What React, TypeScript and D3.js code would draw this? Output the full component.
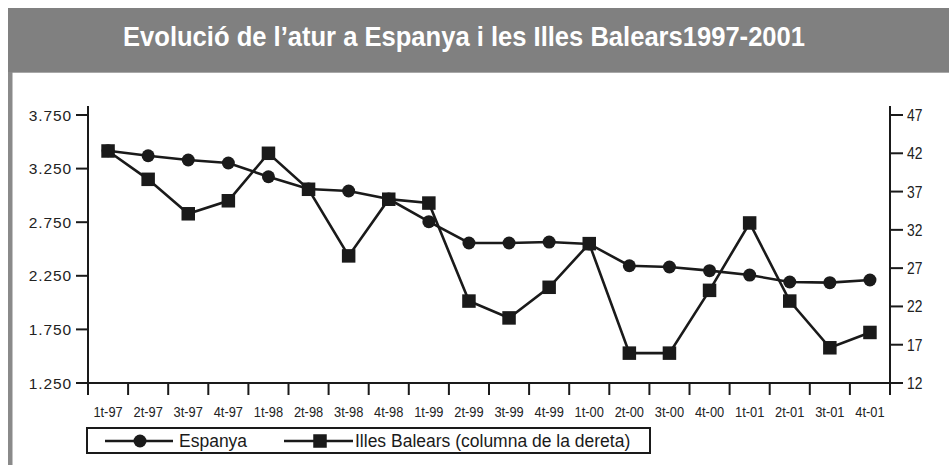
import React from "react";
import * as d3 from "d3";

const categories = ["1t-97","2t-97","3t-97","4t-97","1t-98","2t-98","3t-98","4t-98","1t-99","2t-99","3t-99","4t-99","1t-00","2t-00","3t-00","4t-00","1t-01","2t-01","3t-01","4t-01"];
const espanya = [3417,3370,3330,3302,3174,3060,3041,2966,2755,2556,2556,2565,2547,2344,2332,2298,2257,2192,2186,2211];
const balears = [42.3,38.6,34.1,35.8,42.0,37.3,28.6,36.0,35.5,22.7,20.5,24.5,30.2,15.9,15.9,24.1,32.9,22.7,16.6,18.6];
const leftTicks = [1250,1750,2250,2750,3250,3750];
const rightTicks = [12,17,22,27,32,37,42,47];
const title = "Evolució de l’atur a Espanya i les Illes Balears1997-2001";
const legendLabels = ["Espanya", "Illes Balears (columna de la dereta)"];

const W = 949, H = 465;
const X0 = 88, X1 = 890, YT = 115, YB = 383;
const REG = "'Liberation Sans', Arial, Helvetica, sans-serif";

export default function App() {
  const x = d3.scaleBand<string>().domain(categories).range([X0, X1]).padding(0);
  const yL = d3.scaleLinear().domain([1250, 3750]).range([YB, YT]);
  const yR = d3.scaleLinear().domain([12, 47]).range([YB, YT]);
  const cx = (c: string) => (x(c) as number) + x.bandwidth() / 2;
  const lineL = d3.line<number>().x((_, i) => cx(categories[i])).y((d) => yL(d));
  const lineR = d3.line<number>().x((_, i) => cx(categories[i])).y((d) => yR(d));
  const fmt = (v: number) => d3.format(",")(v).replace(",", ".");
  const boundaries = categories.map((c) => x(c) as number).concat([X1]);
  const sq = 13.5;

  return (
    <svg width={W} height={H} style={{ position: "absolute", left: 0, top: 0, display: "block" }}>
      <rect x={0} y={0} width={W} height={H} fill="#fff" />
      <rect x={8} y={8} width={W - 8} height={64} fill="#808080" />
      <rect x={8} y={72} width={W - 8} height={1} fill="#a8a8a8" />
      <rect x={8} y={72} width={4.5} height={H - 72} fill="#8a8a8a" />
      <text x={123} y={45.5} fill="#fff" fontFamily={REG} fontWeight="bold" fontSize={28}
        textLength={682} lengthAdjust="spacingAndGlyphs">{title}</text>

      {/* axes */}
      <g stroke="#1a1a1a" strokeWidth={2} fill="none">
        <line x1={X0} y1={106} x2={X0} y2={YB} />
        <line x1={X1} y1={106} x2={X1} y2={YB} />
        <line x1={X0} y1={YB} x2={X1} y2={YB} />
        {leftTicks.map((t) => <line key={"l" + t} x1={76} x2={X0} y1={yL(t)} y2={yL(t)} />)}
        {rightTicks.map((t) => <line key={"r" + t} x1={X1} x2={903} y1={yR(t)} y2={yR(t)} />)}
        {boundaries.map((b, i) => <line key={"b" + i} x1={b} x2={b} y1={YB} y2={395} />)}
      </g>
      <g fontFamily={REG} fontSize={15.5} fill="#222" letterSpacing={0.9}>
        {leftTicks.map((t) => (
          <text key={"lt" + t} x={72} y={yL(t)} dy="0.36em" textAnchor="end">{fmt(t)}</text>
        ))}
      </g>
      <g fontFamily={REG} fontSize={16.5} fill="#222">
        {rightTicks.map((t) => (
          <text key={"rt" + t} transform={`translate(907,${yR(t)}) scale(0.84,1)`} dy="0.36em">{t}</text>
        ))}
      </g>
      <g fontFamily={REG} fontSize={15.5} fill="#222">
        {categories.map((c) => (
          <text key={"c" + c} transform={`translate(${cx(c)},417) scale(0.83,1)`} textAnchor="middle">{c}</text>
        ))}
      </g>

      {/* series */}
      <path d={lineL(espanya) as string} fill="none" stroke="#1a1a1a" strokeWidth={2.6} />
      <path d={lineR(balears) as string} fill="none" stroke="#1a1a1a" strokeWidth={2.6} />
      {espanya.map((v, i) => (
        <circle key={"e" + i} cx={cx(categories[i])} cy={yL(v)} r={6.5} fill="#1a1a1a" />
      ))}
      {balears.map((v, i) => (
        <rect key={"s" + i} x={cx(categories[i]) - sq / 2} y={yR(v) - sq / 2} width={sq} height={sq} fill="#1a1a1a" />
      ))}

      {/* legend */}
      <rect x={87} y={428} width={563} height={25} fill="#fff" stroke="#1a1a1a" strokeWidth={2} />
      <line x1={105} x2={173} y1={441} y2={441} stroke="#1a1a1a" strokeWidth={2.6} />
      <circle cx={140} cy={441} r={6.5} fill="#1a1a1a" />
      <text x={179} y={441} dy="0.36em" fontFamily={REG} fontSize={17.5} fill="#1a1a1a">{legendLabels[0]}</text>
      <line x1={284} x2={353} y1={441} y2={441} stroke="#1a1a1a" strokeWidth={2.6} />
      <rect x={320 - sq / 2} y={441 - sq / 2} width={sq} height={sq} fill="#1a1a1a" />
      <text x={355} y={441} dy="0.36em" fontFamily={REG} fontSize={17.5} fill="#1a1a1a">{legendLabels[1]}</text>
    </svg>
  );
}
